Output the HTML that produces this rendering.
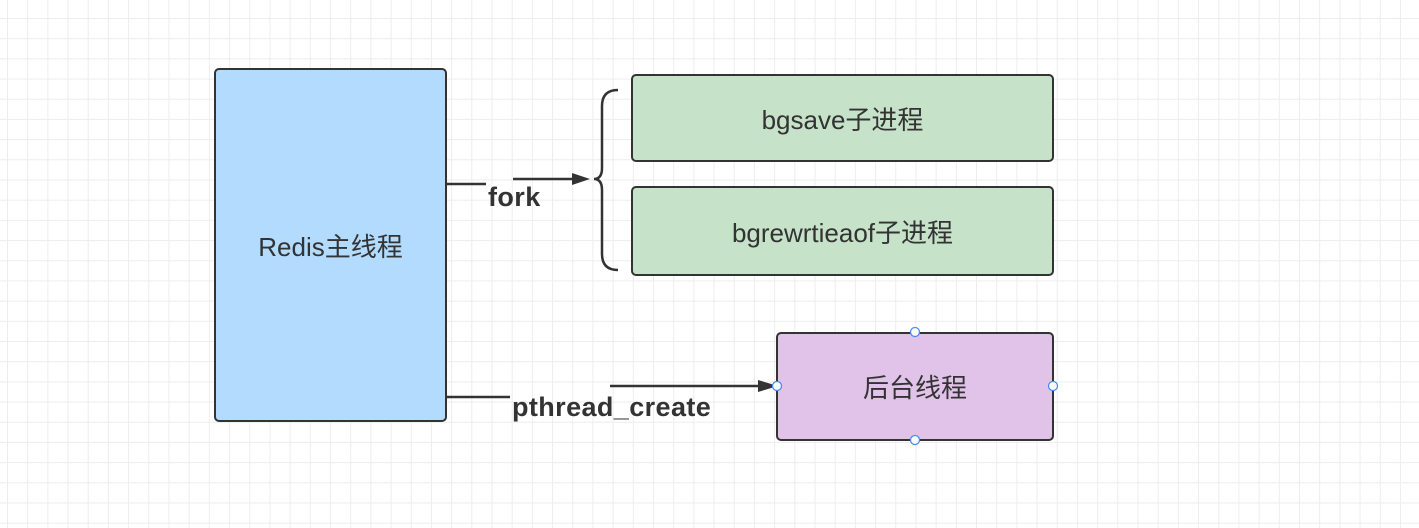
<!DOCTYPE html>
<html><head><meta charset="utf-8"><style>
body{margin:0;width:1419px;height:528px;overflow:hidden;background:#fff;
background-image:linear-gradient(#ededed 1px,transparent 1px),linear-gradient(90deg,#ededed 1px,transparent 1px);
background-size:20.2px 20.2px;background-position:7px 18px;font-family:"Liberation Sans","Noto Sans CJK SC",sans-serif;}
.b{position:absolute;box-sizing:border-box;border:2px solid #333;border-radius:5px;display:flex;align-items:center;justify-content:center;font-size:26px;color:#333}
.l{position:absolute;font-weight:bold;font-size:27px;letter-spacing:0.4px;color:#333}
</style></head><body>
<div class="b" style="left:214px;top:68px;width:233px;height:354px;background:#b3dbfd">Redis主线程</div>
<div class="b" style="left:631px;top:74px;width:423px;height:88px;background:#c6e2c9">bgsave子进程</div>
<div class="b" style="left:631px;top:186px;width:423px;height:90px;background:#c6e2c9">bgrewrtieaof子进程</div>
<div class="b" style="left:776px;top:332px;width:278px;height:109px;background:#e1c2e8">后台线程</div>
<svg width="1419" height="528" style="position:absolute;left:0;top:0">
<g stroke="#333" stroke-width="2.5" fill="none">
<path d="M446 184H486M513 179H575"/>
<path d="M618 90Q602 90 602 106V168Q602 179 594 179Q602 179 602 190V254Q602 270 618 270"/>
<path d="M446 397H510M610 386H765"/>
</g>
<path d="M572 173L590 179L572 185Z" fill="#333"/>
<path d="M758 380L778 386L758 392Z" fill="#333"/>
<g fill="#fff" stroke="#4a8df0" stroke-width="1.3">
<circle cx="915" cy="332" r="4.5"/><circle cx="915" cy="440" r="4.5"/>
<circle cx="777" cy="386" r="4.5"/><circle cx="1053" cy="386" r="4.5"/>
</g>
</svg>
<div class="l" style="left:488px;top:182px">fork</div>
<div class="l" style="left:512px;top:392px">pthread_create</div>
</body></html>
